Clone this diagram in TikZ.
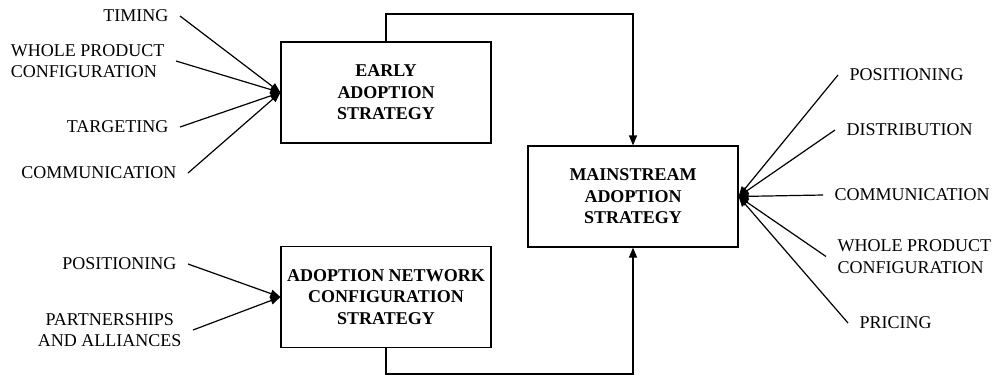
\documentclass[tikz,border=0pt]{standalone}
\usepackage{fontspec}
\setmainfont{Liberation Serif}
\usepackage{tikz}
\usetikzlibrary{arrows,arrows.meta}
\tikzstyle{strategy}=[rectangle, line width=1.2pt, minimum width=210pt, minimum height=101pt, draw=black, align=center, font=\fontsize{18}{21.5}\selectfont\bfseries]
\tikzstyle{factor}=[inner xsep=11pt, inner ysep=0pt, font=\fontsize{18}{21.5}\selectfont]

\begin{document}
\begin{tikzpicture}[>={Triangle[length=10pt,width=8pt]}, x=1pt, y=-1pt, line width=1.2pt]
    \useasboundingbox (0,0) rectangle (993,376);
    % strategy boxes
    \node (early) [strategy] at (386,92.5) {EARLY\\ADOPTION\\STRATEGY};
    \node (main) [strategy] at (633,196.5) {MAINSTREAM\\ADOPTION\\STRATEGY};
    \node (net) [strategy] at (386,297) {ADOPTION NETWORK\\CONFIGURATION\\STRATEGY};
    % factors on the left
    \node (tim) [factor, anchor=east] at (180,16) {TIMING};
    \node (wpc1) [factor, anchor=east, align=left] at (176,61) {WHOLE PRODUCT\\CONFIGURATION};
    \node (tar) [factor, anchor=east] at (180,127) {TARGETING};
    \node (com1) [factor, anchor=east] at (188,173) {COMMUNICATION};
    \node (pos1) [factor, anchor=east] at (188,264) {POSITIONING};
    \node (par) [factor, anchor=east, align=center] at (193,330) {PARTNERSHIPS\\AND ALLIANCES};
    % factors on the right
    \node (pos2) [factor, anchor=west] at (838,75) {POSITIONING};
    \node (dis) [factor, anchor=west] at (835,130) {DISTRIBUTION};
    \node (com2) [factor, anchor=west] at (823,195) {COMMUNICATION};
    \node (wpc2) [factor, anchor=west, align=left] at (826,256.5) {WHOLE PRODUCT\\CONFIGURATION};
    \node (pri) [factor, anchor=west] at (848,323) {PRICING};
    \coordinate (ctop) at (386,14);
    \coordinate (cbot) at (386,374);
    \path[->]
    (tim.east) edge (early.west)
    (wpc1.east) edge (early.west)
    (tar.east) edge (early.west)
    (com1.east) edge (early.west)
    (pos1.east) edge (net.west)
    (par.east) edge (net.west)
    (pos2.west) edge (main.east)
    (dis.west) edge (main.east)
    (com2.west) edge (main.east)
    (wpc2.west) edge (main.east)
    (pri.west) edge (main.east);
    \draw[->] (early.north) -- (ctop) -| (main.north);
    \draw[->] (net.south) -- (cbot) -| (main.south);
\end{tikzpicture}
\end{document}
